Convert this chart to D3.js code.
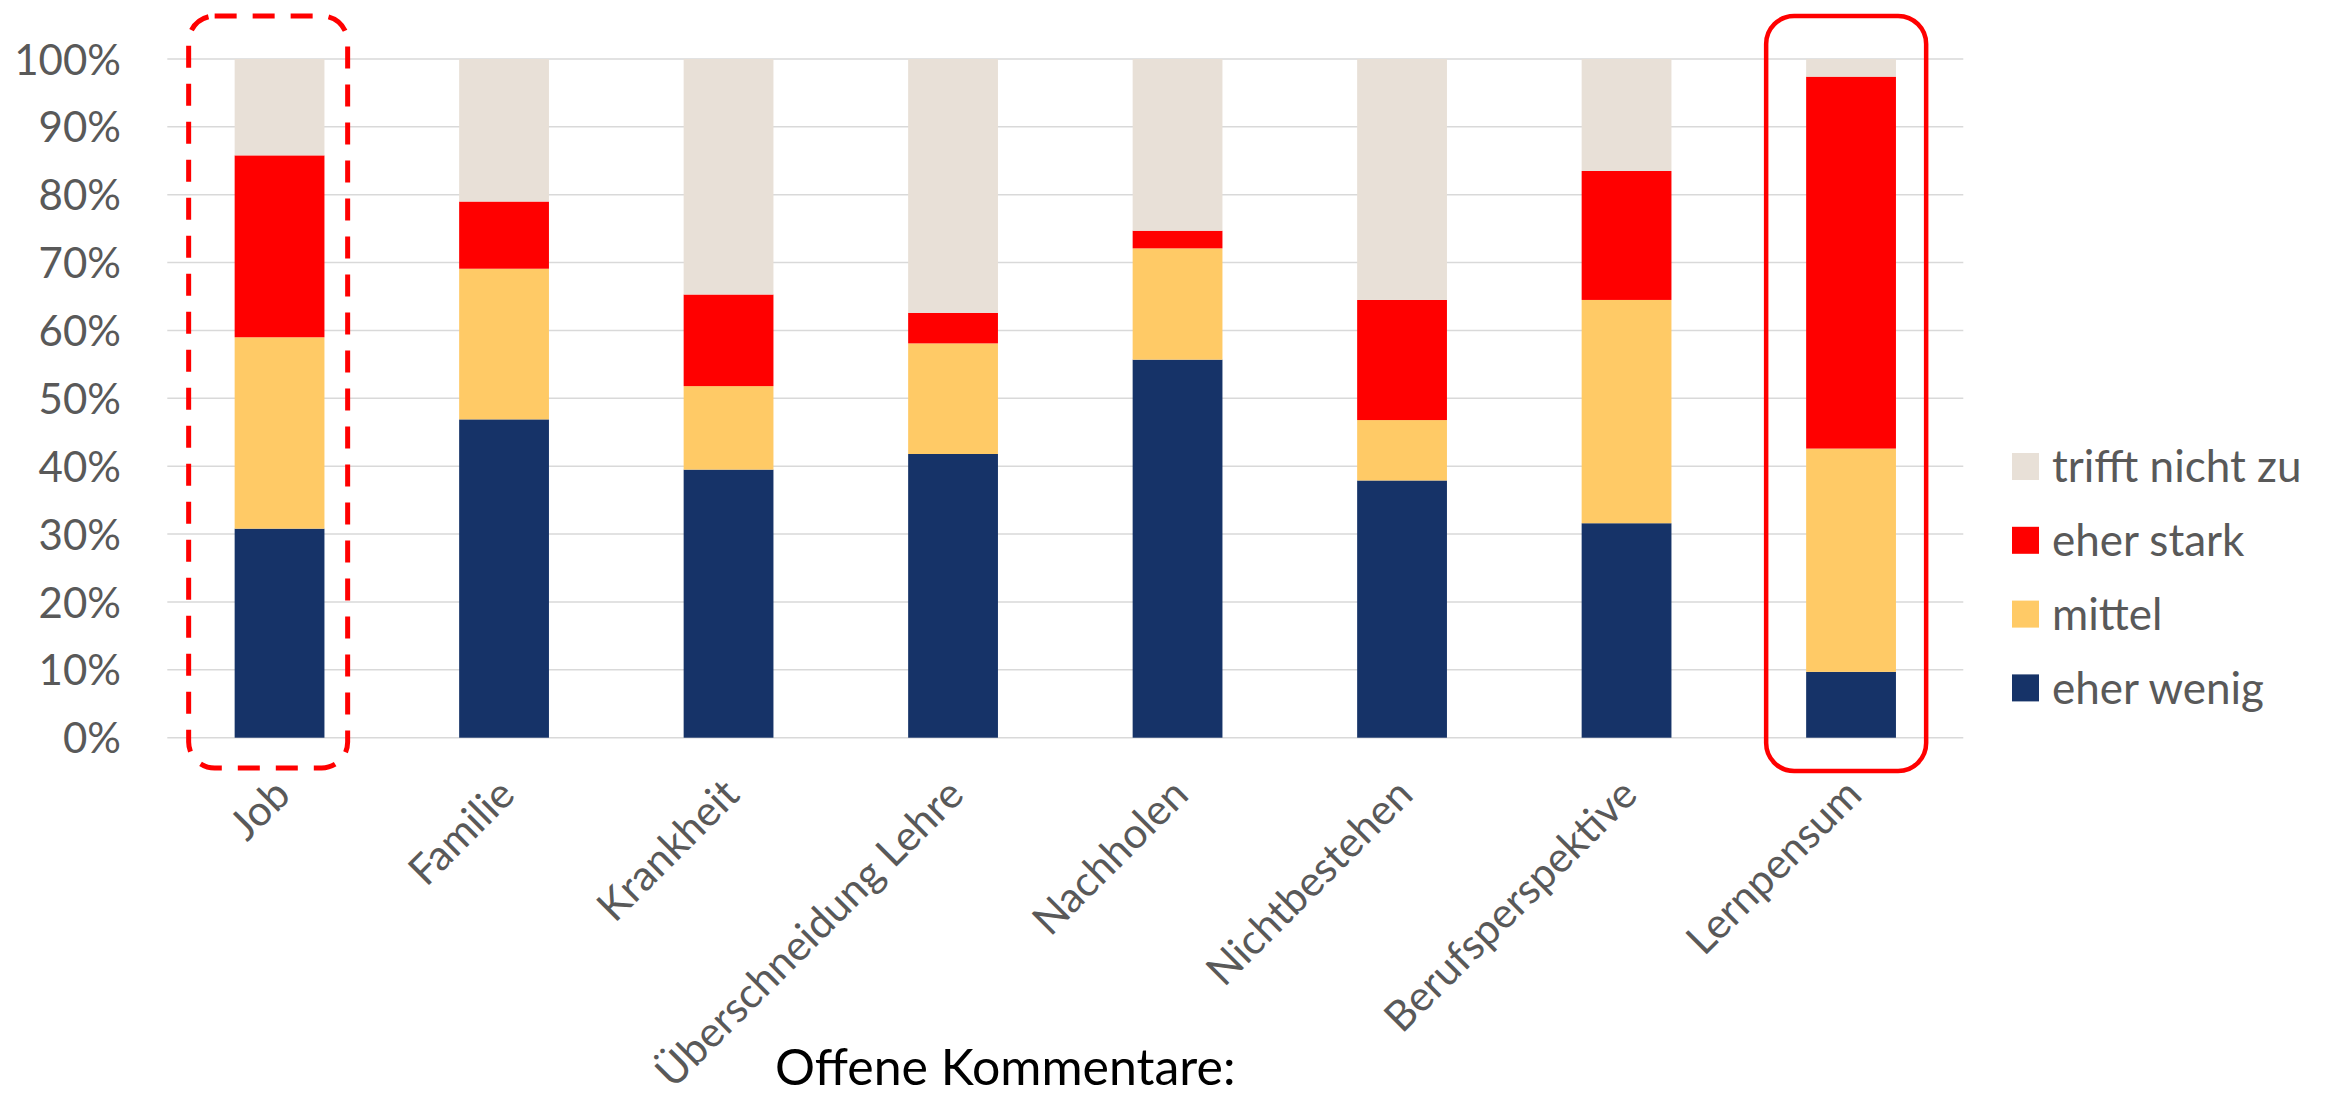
<!DOCTYPE html>
<html>
<head>
<meta charset="utf-8">
<script src="https://cdn.jsdelivr.net/npm/d3@7"></script>
<style>
  html, body { margin: 0; padding: 0; background: #fff; }
  svg { display: block; font-family: Lato, "Open Sans", sans-serif; }
</style>
</head>
<body>
<svg id="chart" width="2332" height="1106"></svg>
<script>
// Reasons for postponing exams, share of answers per rating
const categories = ["Job", "Familie", "Krankheit", "Überschneidung Lehre", "Nachholen", "Nichtbestehen", "Berufsperspektive", "Lernpensum"];
const eherWenig   = [30.8, 46.9, 39.5, 41.8, 55.7, 37.9, 31.6,  9.7];
const mittel      = [28.2, 22.2, 12.3, 16.3, 16.4,  8.9, 32.9, 32.9];
const eherStark   = [26.8,  9.9, 13.5,  4.5,  2.6, 17.7, 19.0, 54.8];
const trifftNicht = [14.2, 21.0, 34.7, 37.4, 25.3, 35.5, 16.5,  2.6];
const seriesNames = ["eher wenig", "mittel", "eher stark", "trifft nicht zu"];
const yTicks = [0, 10, 20, 30, 40, 50, 60, 70, 80, 90, 100];
const xTitle = "Offene Kommentare:";
const dashedHighlight = "Job";
const solidHighlight = "Lernpensum";

const colors = {
  "eher wenig": "#163368",
  "mittel": "#FFCA66",
  "eher stark": "#FF0000",
  "trifft nicht zu": "#E8E0D7"
};

const rows = categories.map((c, i) => ({
  category: c,
  "eher wenig": eherWenig[i],
  "mittel": mittel[i],
  "eher stark": eherStark[i],
  "trifft nicht zu": trifftNicht[i]
}));

const svg = d3.select("#chart");
const plotLeft = 167.3, plotRight = 1963.3, plotTop = 59, plotBottom = 737.7;

const x = d3.scaleBand().domain(categories).range([plotLeft, plotRight]).paddingInner(0.6).paddingOuter(0.3);
const y = d3.scaleLinear().domain([0, 100]).range([plotBottom, plotTop]);

// horizontal gridlines
svg.append("g").selectAll("line").data(yTicks).join("line")
  .attr("x1", plotLeft).attr("x2", plotRight)
  .attr("y1", d => y(d)).attr("y2", d => y(d))
  .attr("stroke", "#D9D9D9").attr("stroke-width", 1.5);

// y axis labels
const yAxis = d3.axisLeft(y).tickValues(yTicks).tickFormat(d => d + "%").tickSize(0).tickPadding(0);
const gy = svg.append("g").attr("transform", `translate(121,0)`).call(yAxis);
gy.select(".domain").remove();
gy.selectAll("text").attr("font-size", 42).attr("fill", "#595959")
  .attr("font-family", "Lato, sans-serif").attr("dy", "0.36em");

// stacked bars
const stack = d3.stack().keys(seriesNames);
const layers = stack(rows);
svg.append("g").selectAll("g").data(layers).join("g")
  .attr("fill", d => colors[d.key])
  .selectAll("rect").data(d => d).join("rect")
  .attr("x", d => x(d.data.category))
  .attr("width", x.bandwidth())
  .attr("y", d => y(d[1]))
  .attr("height", d => y(d[0]) - y(d[1]));

// category labels, rotated
svg.append("g").selectAll("text").data(categories).join("text")
  .attr("transform", d => `translate(${x(d) + x.bandwidth() / 2 + 13},${797}) rotate(-45)`)
  .attr("text-anchor", "end")
  .attr("font-size", 42)
  .attr("fill", "#595959")
  .text(d => d);

// axis title
svg.append("text")
  .attr("x", 775).attr("y", 1085)
  .attr("font-size", 50)
  .attr("fill", "#000")
  .text(xTitle);

// highlight frames
svg.append("rect")
  .attr("x", x(dashedHighlight) - 46).attr("y", 16)
  .attr("width", 159).attr("height", 752)
  .attr("rx", 26).attr("ry", 26)
  .attr("fill", "none").attr("stroke", "#FF0000").attr("stroke-width", 5)
  .attr("stroke-dasharray", "22 16");

svg.append("rect")
  .attr("x", x(solidHighlight) - 40).attr("y", 16)
  .attr("width", 160).attr("height", 755)
  .attr("rx", 28).attr("ry", 28)
  .attr("fill", "none").attr("stroke", "#FF0000").attr("stroke-width", 4.5);

// legend, top entry is the top segment
const legendOrder = ["trifft nicht zu", "eher stark", "mittel", "eher wenig"];
const legend = svg.append("g").selectAll("g").data(legendOrder).join("g")
  .attr("transform", (d, i) => `translate(2012,${466.5 + i * 73.8})`);
legend.append("rect").attr("x", 0).attr("y", -13.5).attr("width", 27).attr("height", 27)
  .attr("fill", d => colors[d]);
legend.append("text").attr("x", 40).attr("dy", "0.36em")
  .attr("font-size", 44).attr("fill", "#595959")
  .text(d => d);
</script>
</body>
</html>
